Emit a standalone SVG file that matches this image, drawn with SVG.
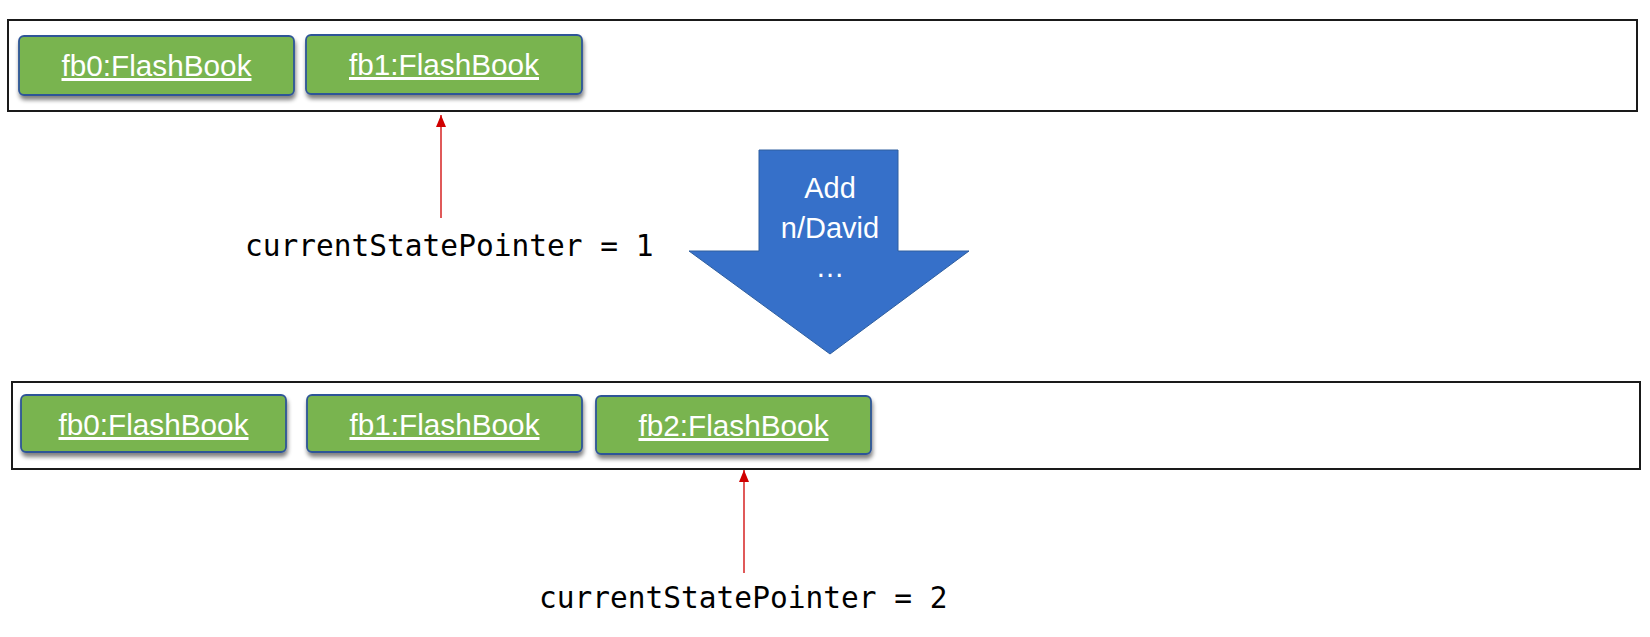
<svg xmlns="http://www.w3.org/2000/svg" width="1650" height="637" viewBox="0 0 1650 637">
<defs>
<style>
.frame{fill:#ffffff;stroke:#1a1a1a;stroke-width:2}
.node rect{fill:#79B44F;stroke:#2F5597;stroke-width:1.8}
.node text{font-family:"Liberation Sans",Arial,sans-serif;font-size:30px;fill:#ffffff;text-anchor:middle;text-decoration:underline}
.ptr{stroke:#D00000;stroke-width:1.3;fill:none}
.lbl{font-family:"DejaVu Sans Mono",monospace;font-size:29.5px;fill:#000000}
.cmd{font-family:"Liberation Sans",Arial,sans-serif;font-size:29px;fill:#ffffff;text-anchor:middle}
</style>
<filter id="sh" x="-10%" y="-20%" width="120%" height="160%">
<feGaussianBlur in="SourceAlpha" stdDeviation="2"/>
<feOffset dx="1" dy="4" result="b"/>
<feComponentTransfer><feFuncA type="linear" slope="0.5"/></feComponentTransfer>
<feMerge><feMergeNode/><feMergeNode in="SourceGraphic"/></feMerge>
</filter>
<marker id="ah" markerWidth="12" markerHeight="10" refX="12" refY="5" orient="auto" markerUnits="userSpaceOnUse" viewBox="0 0 12 10">
<path d="M0,0 L12,5 L0,10 Z" fill="#D00000"/>
</marker>
</defs>
<rect width="1650" height="637" fill="#ffffff"/>
<g id="state0">
<rect class="frame" x="8" y="20" width="1629" height="91"/>
</g>
<g id="state1">
<rect class="frame" x="12" y="382" width="1628" height="87"/>
</g>
<g id="top-fb0" class="node">
<rect x="19" y="36" width="275" height="59" rx="5" filter="url(#sh)"/>
<text x="156.5" y="76" textLength="190" lengthAdjust="spacingAndGlyphs">fb0:FlashBook</text>
</g>
<g id="top-fb1" class="node">
<rect x="306" y="35" width="276" height="59" rx="5" filter="url(#sh)"/>
<text x="444" y="75" textLength="190" lengthAdjust="spacingAndGlyphs">fb1:FlashBook</text>
</g>
<g id="bot-fb0" class="node">
<rect x="21" y="395" width="265" height="57" rx="5" filter="url(#sh)"/>
<text x="153.5" y="435" textLength="190" lengthAdjust="spacingAndGlyphs">fb0:FlashBook</text>
</g>
<g id="bot-fb1" class="node">
<rect x="307" y="395" width="275" height="57" rx="5" filter="url(#sh)"/>
<text x="444.5" y="435" textLength="190" lengthAdjust="spacingAndGlyphs">fb1:FlashBook</text>
</g>
<g id="bot-fb2" class="node">
<rect x="596" y="396" width="275" height="58" rx="5" filter="url(#sh)"/>
<text x="733.5" y="436" textLength="190" lengthAdjust="spacingAndGlyphs">fb2:FlashBook</text>
</g>
<g id="command">
<path d="M759,150 L898,150 L898,251 L969,251 L830,354 L689,251 L759,251 Z" fill="#3670C9" stroke="#2E5E9F" stroke-width="1"/>
<text class="cmd" x="830" y="198">Add</text>
<text class="cmd" x="830" y="238">n/David</text>
<text class="cmd" x="830" y="277">…</text>
</g>
<g id="connectors">
<line class="ptr" x1="441" y1="218" x2="441" y2="115" marker-end="url(#ah)"/>
<line class="ptr" x1="744" y1="573" x2="744" y2="470" marker-end="url(#ah)"/>
</g>
<g id="labels">
<text class="lbl" x="245" y="256">currentStatePointer = 1</text>
<text class="lbl" x="539" y="608">currentStatePointer = 2</text>
</g>
</svg>
